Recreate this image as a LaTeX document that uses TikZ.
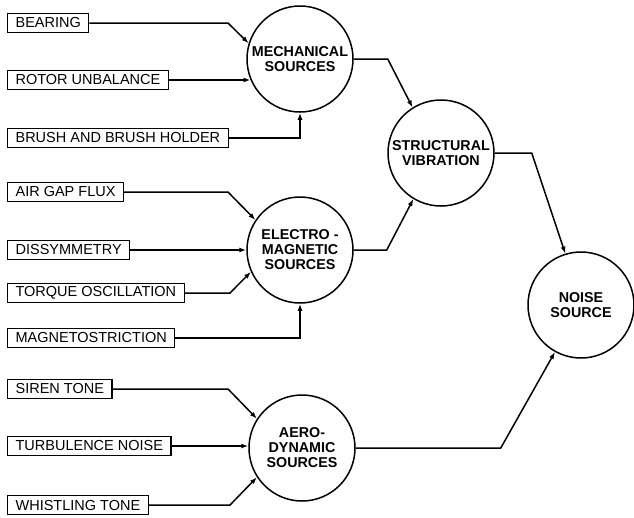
\documentclass[tikz,border=0pt]{standalone}
\usepackage{fontspec}
\setmainfont{Liberation Sans}
\usepackage{tikz}
\usetikzlibrary{arrows.meta}

\begin{document}
\begin{tikzpicture}[x=1pt,y=-1pt,
  cause/.style={draw, line width=1.2pt, anchor=west, inner xsep=8pt, minimum height=19pt,
    font=\fontsize{14.5}{16}\selectfont},
  source/.style={circle, draw, line width=1.5pt, inner sep=0pt, minimum size=106pt,
    align=center, font=\bfseries\fontsize{14.3}{15}\selectfont},
  link/.style={line width=1.5pt, -{Latex[length=7pt,width=5pt]}}]
\useasboundingbox (0,0) rectangle (634,517);

% Define nodes
\node[cause] (bear)    at (7,23)  {BEARING};
\node[cause] (rotor)   at (7,80)  {ROTOR UNBALANCE};
\node[cause] (brush)   at (7,138) {BRUSH AND BRUSH HOLDER};
\node[cause] (flux)    at (7,192) {AIR GAP FLUX};
\node[cause] (dissym)  at (7,250) {DISSYMMETRY};
\node[cause] (torque)  at (7,293) {TORQUE OSCILLATION};
\node[cause] (magneto) at (7,338) {MAGNETOSTRICTION};
\node[cause] (siren)   at (7,389) {SIREN TONE};
\node[cause] (turb)    at (7,446) {TURBULENCE NOISE};
\node[cause] (whistle) at (7,505) {WHISTLING TONE};

\node[source] (mech)   at (300,59)  {MECHANICAL\\SOURCES};
\node[source] (elec)   at (300,250) {ELECTRO -\\MAGNETIC\\SOURCES};
\node[source] (aero)   at (302,448) {AERO-\\DYNAMIC\\SOURCES};
\node[source] (struct) at (441,153) {STRUCTURAL\\VIBRATION};
\node[source] (noise)  at (581,305) {NOISE\\SOURCE};

% Connect the nodes
\draw[link] (bear.east) -- (228,23) -- (mech.163);
\draw[link] (rotor.east) -- (rotor.east -| mech.203);
\draw[link] (brush.east) -| (mech.south);

\draw[link] (flux.east) -- (228,192) -- (elec.146);
\draw[link] (dissym.east) -- (dissym.east -| elec.180);
\draw[link] (torque.east) -- (230,293) -- (elec.204);
\draw[link] (magneto.east) -| (elec.south);

\draw[link] (siren.east) -- (228,389) -- (aero.147);
\draw[link] (turb.east) -- (turb.east -| aero.182);
\draw[link] (whistle.east) -- (230,505) -- (aero.213);

\draw[link] (mech.east) -- ++(34,0) -- (struct.122);
\draw[link] (elec.east) -- ++(33,0) -- (struct.239);
\draw[link] (struct.east) -- ++(37,0) -- (noise.107);
\draw[link] (aero.east) -- ++(145,0) -- (noise.241);
\end{tikzpicture}
\end{document}
